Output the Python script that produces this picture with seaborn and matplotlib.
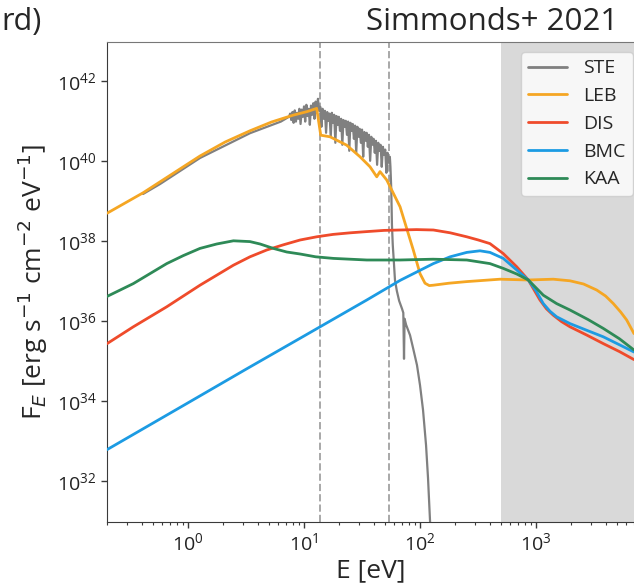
import numpy as np
import pandas as pd
import matplotlib
matplotlib.use("Agg")
import matplotlib.pyplot as plt
import matplotlib.ticker as mticker
import seaborn as sns

# ---------------- data (log10 values) ----------------
labels = ["STE", "LEB", "DIS", "BMC", "KAA"]
colors = ["#808080", "#f5a623", "#ef4b2b", "#1c9be3", "#2e8a57"]

ste_logE = [-0.388, -0.241, 0.103, 0.534, 0.800,
            0.87, 0.88, 0.89, 0.90, 0.91, 0.92, 0.93, 0.94, 0.95, 0.96,
            0.97, 0.98, 0.99, 1.00, 1.01, 1.02, 1.03, 1.04, 1.05, 1.06,
            1.07, 1.08, 1.09, 1.10, 1.11, 1.12, 1.13, 1.14, 1.15, 1.16,
            1.17, 1.18, 1.19, 1.20, 1.21, 1.22, 1.23, 1.24, 1.25, 1.26,
            1.27, 1.28, 1.29, 1.30, 1.31, 1.32, 1.33, 1.34, 1.35, 1.36,
            1.37, 1.38, 1.39, 1.40, 1.41, 1.42, 1.43, 1.44, 1.45, 1.46,
            1.47, 1.48, 1.49, 1.50, 1.51, 1.52, 1.53, 1.54, 1.55, 1.56,
            1.57, 1.58, 1.59, 1.60, 1.61, 1.62, 1.63, 1.64, 1.65, 1.66,
            1.67, 1.68, 1.69, 1.70, 1.71, 1.72, 1.73, 1.74,
            1.745, 1.752, 1.758, 1.765, 1.776, 1.784, 1.800, 1.820, 1.845, 1.856,
            1.862, 1.867, 1.880, 1.897, 1.914, 1.940, 1.974, 2.000, 2.026, 2.052,
            2.069, 2.086, 2.103]
ste_logF = [39.17, 39.42, 40.07, 40.69, 40.98,
            41.10, 41.18, 41.02, 41.22, 40.95, 41.26, 40.98, 41.20, 41.05, 41.30,
            40.92, 41.28, 41.10, 41.36, 40.98, 41.40, 41.12, 41.30, 40.90, 41.38,
            41.15, 41.44, 41.05, 41.48, 41.20, 41.55, 41.25, 41.35, 40.85, 41.30,
            41.05, 41.25, 40.70, 41.22, 41.00, 41.18, 40.60, 41.20, 40.95, 41.15,
            40.45, 41.12, 40.90, 41.10, 40.75, 41.05, 40.40, 41.02, 40.85, 41.00,
            40.65, 40.98, 40.25, 40.95, 40.75, 40.92, 40.55, 40.88, 40.20, 40.85,
            40.60, 40.80, 40.45, 40.78, 40.10, 40.72, 40.50, 40.70, 40.35, 40.65,
            40.00, 40.60, 40.40, 40.55, 40.20, 40.50, 39.90, 40.45, 40.25, 40.40,
            39.85, 40.35, 40.15, 40.28, 39.70, 40.20, 39.95, 40.10,
            39.85, 39.30, 38.40, 37.90, 37.40, 37.02, 36.75, 36.50, 36.30, 36.20,
            35.05, 36.05, 35.90, 35.77, 35.64, 35.32, 34.89, 34.39, 33.77, 32.89,
            32.07, 31.02, 30.02]

leb_logE = [-0.698, -0.388, 0.103, 0.320, 0.534, 0.720, 0.905, 1.026, 1.109, 1.144,
            1.224, 1.368, 1.483, 1.569, 1.627, 1.655, 1.713, 1.828, 1.942, 2.000,
            2.043, 2.080, 2.115, 2.250, 2.403, 2.690, 2.934, 3.149, 3.293, 3.410,
            3.523, 3.600, 3.667, 3.730, 3.782, 3.845]
leb_logF = [38.69, 39.20, 40.12, 40.47, 40.75, 40.97, 41.14, 41.23, 41.31, 40.64,
            40.60, 40.39, 40.10, 39.85, 39.60, 39.73, 39.52, 38.85, 37.77, 37.18,
            36.94, 36.88, 36.89, 36.94, 36.98, 37.04, 37.02, 37.04, 37.00, 36.92,
            36.77, 36.62, 36.43, 36.22, 36.02, 35.68]

dis_logE = [-0.698, -0.472, -0.184, 0.103, 0.247, 0.391, 0.534, 0.678, 0.822, 0.966,
            1.109, 1.250, 1.400, 1.541, 1.690, 1.828, 1.970, 2.115, 2.260, 2.403,
            2.503, 2.603, 2.718, 2.834, 2.934, 3.034, 3.090, 3.149, 3.220, 3.293,
            3.440, 3.580, 3.720, 3.845]
dis_logF = [35.43, 35.85, 36.35, 36.89, 37.14, 37.39, 37.60, 37.77, 37.90, 38.02,
            38.10, 38.16, 38.20, 38.23, 38.26, 38.27, 38.28, 38.27, 38.20, 38.10,
            38.02, 37.93, 37.68, 37.35, 37.02, 36.52, 36.30, 36.14, 35.98, 35.85,
            35.64, 35.43, 35.23, 35.03]

bmc_logE = [-0.698, 0.000, 0.500, 1.000, 1.541, 1.828, 2.115, 2.260, 2.403, 2.517,
            2.603, 2.718, 2.834, 2.934, 3.000, 3.063, 3.120, 3.178, 3.293, 3.440,
            3.580, 3.720, 3.845]
bmc_logF = [32.78, 33.95, 34.79, 35.62, 36.52, 37.01, 37.43, 37.60, 37.71, 37.75,
            37.71, 37.56, 37.27, 37.02, 36.75, 36.43, 36.24, 36.10, 35.93, 35.76,
            35.60, 35.40, 35.22]

kaa_logE = [-0.698, -0.472, -0.184, -0.041, 0.103, 0.247, 0.391, 0.534, 0.621, 0.735,
            0.851, 0.966, 1.100, 1.253, 1.541, 1.828, 2.112, 2.403, 2.603, 2.718,
            2.834, 2.934, 3.063, 3.178, 3.293, 3.450, 3.580, 3.720, 3.845]
kaa_logF = [36.61, 36.93, 37.43, 37.63, 37.81, 37.92, 38.00, 37.98, 37.92, 37.81,
            37.72, 37.67, 37.60, 37.56, 37.52, 37.52, 37.54, 37.52, 37.43, 37.31,
            37.17, 37.02, 36.64, 36.43, 36.27, 36.03, 35.81, 35.55, 35.27]

ion_edges = [13.6, 54.4]
xray_start = 500.0

# ---------------- build table ----------------
series = {"STE": (ste_logE, ste_logF), "LEB": (leb_logE, leb_logF),
          "DIS": (dis_logE, dis_logF), "BMC": (bmc_logE, bmc_logF),
          "KAA": (kaa_logE, kaa_logF)}
frames = []
for name in labels:
    le, lf = series[name]
    frames.append(pd.DataFrame({"E": 10.0 ** np.array(le), "F": 10.0 ** np.array(lf),
                                "model": name}))
df = pd.concat(frames, ignore_index=True)

# ---------------- style ----------------
sns.set_style("ticks")
plt.rcParams["font.family"] = ["Open Sans", "DejaVu Sans"]
plt.rcParams["axes.edgecolor"] = "#3a3a3a"
plt.rcParams["xtick.color"] = "#3a3a3a"
plt.rcParams["ytick.color"] = "#3a3a3a"
plt.rcParams["xtick.labelcolor"] = "#222222"
plt.rcParams["ytick.labelcolor"] = "#222222"

fig = plt.figure(figsize=(6.34, 5.88), dpi=100)
ax = fig.add_axes([107 / 634, 1 - 522 / 588, (634 - 107) / 634, (522 - 42) / 588])

ax.set_xscale("log")
ax.set_yscale("log")
ax.axvspan(xray_start, 1e5, color="#d9d9d9", zorder=0, lw=0)
for e in ion_edges:
    ax.axvline(e, color="#a8a8a8", ls="--", lw=1.4, zorder=1)

sns.lineplot(data=df, x="E", y="F", hue="model", hue_order=labels,
             palette=dict(zip(labels, colors)), sort=False, estimator=None,
             units="model", linewidth=2.0, ax=ax, legend=True)
for line, name in zip(ax.get_lines()[len(ion_edges):], labels):
    line.set_zorder(2 if name == "STE" else 3)
    if name == "STE":
        line.set_linewidth(1.6)

ax.set_xlim(0.2, 7000)
ax.set_ylim(10 ** 30.97, 10 ** 42.97)
ax.yaxis.set_major_locator(mticker.FixedLocator([10.0 ** k for k in range(32, 43, 2)]))
ax.yaxis.set_major_formatter(mticker.LogFormatterSciNotation())
ax.yaxis.set_minor_locator(mticker.NullLocator())
ax.xaxis.set_major_locator(mticker.FixedLocator([1, 10, 100, 1000]))
ax.xaxis.set_minor_locator(mticker.LogLocator(base=10, subs=np.arange(2, 10), numticks=20))
ax.xaxis.set_minor_formatter(mticker.NullFormatter())
ax.tick_params(axis="both", which="major", labelsize=14, length=4, width=1)
ax.tick_params(axis="x", which="minor", length=2.5, width=0.8)
ax.spines["right"].set_visible(False)
ax.spines["top"].set_color("#777777")

ax.set_xlabel("E [eV]", fontsize=19, labelpad=3)
ax.set_ylabel(r"F$_E$ [erg s$^{-1}$ cm$^{-2}$ eV$^{-1}$]", fontsize=19, labelpad=5)

leg = ax.legend(loc="upper right", bbox_to_anchor=(633 / 634, 1 - 51.7 / 588),
                bbox_transform=fig.transFigure, borderaxespad=0, fontsize=14,
                frameon=True, title=None, labelspacing=0.5, handlelength=2.0,
                handletextpad=0.8)
for h in leg.get_lines():
    h.set_linewidth(2.0)

fig.text(618 / 634, 1 - 22 / 588, "Simmonds+ 2021", ha="right", va="center", fontsize=22.5)
fig.text(1 / 634, 1 - 22 / 588, "rd)", ha="left", va="center", fontsize=22)

fig.savefig("out.png", dpi=100)
